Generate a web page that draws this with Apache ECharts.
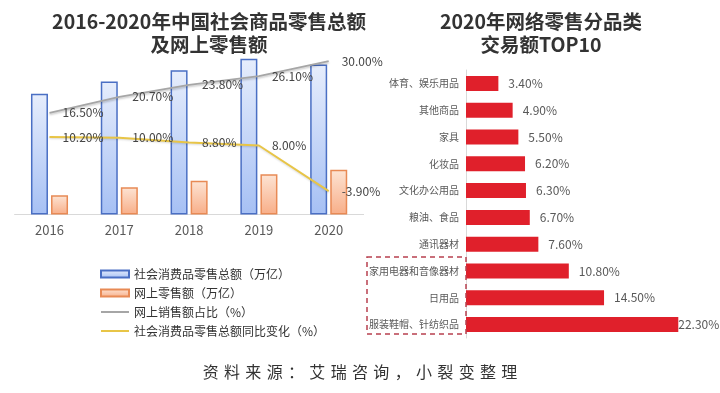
<!DOCTYPE html>
<html><head><meta charset="utf-8">
<script src="https://cdn.jsdelivr.net/npm/echarts@6/dist/echarts.min.js"></script>
<style>html,body{margin:0;padding:0;background:#fff}#c{width:720px;height:393px}</style>
</head><body><div id="c"></div>
<script>
// Left chart data
const years = ['2016', '2017', '2018', '2019', '2020'];
const totalRetail = [31.5, 34.7, 37.6, 40.6, 39.1];      // 社会消费品零售总额（万亿）
const onlineRetail = [5.0, 7.1, 8.8, 10.5, 11.7];        // 网上零售额（万亿）
const onlineShare = [16.5, 20.7, 23.8, 26.1, 30.0];      // 网上销售额占比（%）
const totalYoY = [10.2, 10.0, 8.8, 8.0, -3.9];           // 社会消费品零售总额同比变化（%）
// Right chart data
const categories = ['体育、娱乐用品', '其他商品', '家具', '化妆品', '文化办公用品', '粮油、食品', '通讯器材', '家用电器和音像器材', '日用品', '服装鞋帽、针纺织品'];
const shares = [3.4, 4.9, 5.5, 6.2, 6.3, 6.7, 7.6, 10.8, 14.5, 22.3];

const chart = echarts.init(document.getElementById('c'), null, {renderer: 'canvas'});
const pct = v => v.toFixed(2) + '%';
const font = '"Noto Sans CJK SC", "Noto Sans", sans-serif';

const shareData = shares.map((v, i) => i === shares.length - 1 ? {value: v, label: {distance: 0}} : v);

chart.setOption({
  textStyle: {fontFamily: font},
  animation: false,
  title: [
    {text: '2016-2020年中国社会商品零售总额\n及网上零售额', left: 204, top: 5, textAlign: 'center',
     textStyle: {fontSize: 19.5, fontWeight: 'bold', color: '#333', lineHeight: 23, fontFamily: font}},
    {text: '2020年网络零售分品类\n交易额TOP10', left: 536, top: 5, textAlign: 'center',
     textStyle: {fontSize: 19.5, fontWeight: 'bold', color: '#333', lineHeight: 23, fontFamily: font}}
  ],
  legend: {
    orient: 'vertical', left: 95, top: 263, itemWidth: 28, itemHeight: 7, itemGap: 7,
    textStyle: {fontSize: 12, color: '#333', lineHeight: 12},
    data: [
      {name: '社会消费品零售总额（万亿）', icon: 'rect'},
      {name: '网上零售额（万亿）', icon: 'rect'},
      {name: '网上销售额占比（%）'},
      {name: '社会消费品零售总额同比变化（%）'}
    ]
  },
  grid: [
    {left: 14.6, width: 349, top: 42, height: 172.5},
    {left: 466, right: 16, top: 70, bottom: 55}
  ],
  xAxis: [
    {type: 'category', gridIndex: 0, data: years, axisTick: {show: false},
     axisLine: {lineStyle: {color: '#d9d9d9', width: 1}},
     axisLabel: {fontSize: 13, color: '#595959', margin: 9}},
    {type: 'value', gridIndex: 1, min: 0, max: 25, show: false}
  ],
  yAxis: [
    {type: 'value', gridIndex: 0, min: 0, max: 45, show: false},
    {type: 'value', gridIndex: 0, min: -10, max: 35, show: false},
    {type: 'category', gridIndex: 1, data: categories, inverse: true,
     axisTick: {show: false}, axisLine: {lineStyle: {color: '#d9d9d9'}},
     axisLabel: {fontSize: 10, color: '#595959', margin: 7}}
  ],
  series: [
    {name: '社会消费品零售总额（万亿）', type: 'bar', xAxisIndex: 0, yAxisIndex: 0, data: totalRetail,
     barWidth: 17, barGap: '18%',
     itemStyle: {borderColor: '#4a6fc4', borderWidth: 1.5,
       color: new echarts.graphic.LinearGradient(0, 0, 0, 1, [{offset: 0, color: '#e6edfc'}, {offset: 1, color: '#a6c0f4'}])}},
    {name: '网上零售额（万亿）', type: 'bar', xAxisIndex: 0, yAxisIndex: 0, data: onlineRetail,
     barWidth: 17,
     itemStyle: {borderColor: '#e88a55', borderWidth: 1.5,
       color: new echarts.graphic.LinearGradient(0, 0, 0, 1, [{offset: 0, color: '#fde4d4'}, {offset: 1, color: '#f8ae88'}])}},
    {name: '网上销售额占比（%）', type: 'line', xAxisIndex: 0, yAxisIndex: 1, data: onlineShare,
     symbol: 'circle', symbolSize: 2, showSymbol: true,
     itemStyle: {color: 'rgba(0,0,0,0)', borderWidth: 0},
     lineStyle: {color: '#a6a6a6', width: 1.8, shadowColor: 'rgba(0,0,0,0.22)', shadowBlur: 2, shadowOffsetY: 1.5},
     label: {show: true, position: 'right', distance: 12, fontSize: 12, color: '#444', formatter: p => pct(p.value)}},
    {name: '社会消费品零售总额同比变化（%）', type: 'line', xAxisIndex: 0, yAxisIndex: 1, data: totalYoY,
     symbol: 'circle', symbolSize: 2, showSymbol: true,
     itemStyle: {color: 'rgba(0,0,0,0)', borderWidth: 0},
     lineStyle: {color: '#e8c547', width: 2, shadowColor: 'rgba(0,0,0,0.15)', shadowBlur: 2, shadowOffsetY: 1},
     label: {show: true, position: 'right', distance: 12, fontSize: 12, color: '#444', formatter: p => pct(p.value)}},
    {name: 'TOP10', type: 'bar', xAxisIndex: 1, yAxisIndex: 2, data: shareData, barWidth: 15,
     itemStyle: {color: '#e0202b'},
     label: {show: true, position: 'right', distance: 10, fontSize: 12, color: '#595959', formatter: p => pct(p.value)}}
  ],
  graphic: [
    {type: 'rect', shape: {x: 367, y: 257, width: 99, height: 77}, z: 10,
     style: {fill: 'none', stroke: '#b8404f', lineWidth: 1.5, lineDash: [5, 4]}},
    {type: 'text', left: 'center', top: 364, z: 10,
     style: {text: '资\u2004料\u2004来\u2004源\u2004：\u2004艾\u2004瑞\u2004咨\u2004询\u2004，\u2004小\u2004裂\u2004变\u2004整\u2004理',
       font: '16px ' + font, fill: '#333'}}
  ]
});
</script></body></html>
